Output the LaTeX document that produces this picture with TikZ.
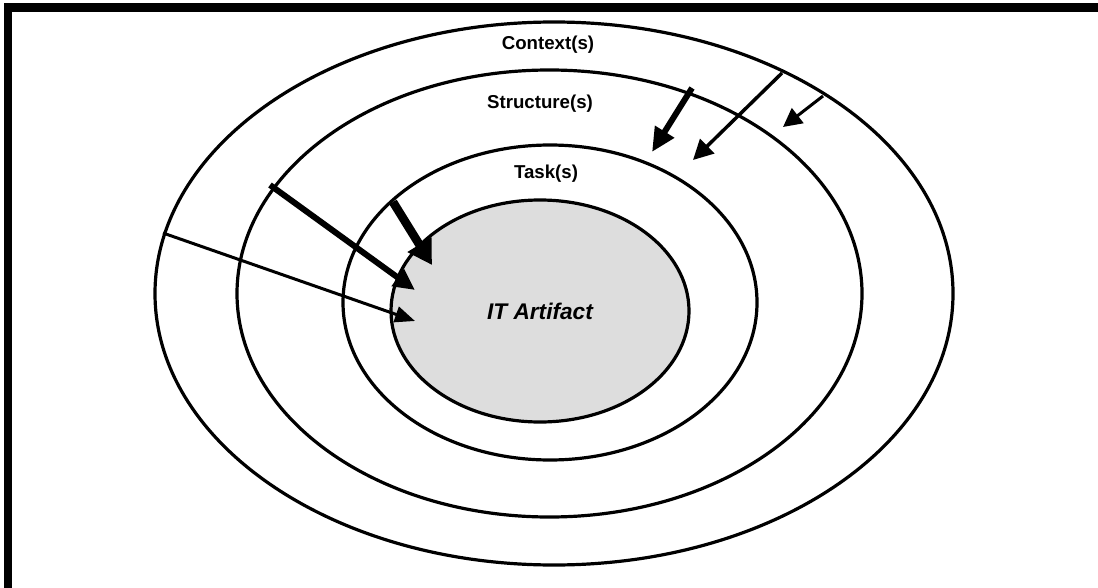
\documentclass[tikz,border=0pt]{standalone}
\usepackage{fontspec}
\setmainfont{Liberation Sans}
\usetikzlibrary{shapes.geometric,arrows.meta}
\definecolor{artgray}{RGB}{221,221,221}
\tikzset{
  ring/.style={ellipse, draw=black, line width=2.4pt, inner sep=0pt, outer sep=0pt},
  lbl/.style={font=\fontsize{14}{16}\selectfont\bfseries, inner sep=0pt},
  arr/.style={draw=black, line cap=butt}
}
\begin{document}
\begin{tikzpicture}[x=0.75pt,y=-0.75pt]
\useasboundingbox (0,0) rectangle (1098,588);
% frame (top and left)
\fill[black] (4,3) rectangle (1098,12);
\fill[black] (4,3) rectangle (12,588);
% rings
\node[ring, minimum width=598.5pt, minimum height=407.25pt] (ctx) at (554,293.5) {};
\node[ring, minimum width=468.75pt, minimum height=335.25pt] (str) at (549.5,293.5) {};
\node[ring, minimum width=310.5pt, minimum height=236.25pt] (tsk) at (550,302.5) {};
\node[ring, fill=artgray, minimum width=223.5pt, minimum height=166.5pt] (art) at (540,311) {};
% labels
\node[lbl] (lctx) at (548,45) {Context(s)};
\node[lbl] (lstr) at (540,104) {Structure(s)};
\node[lbl] (ltsk) at (546,174) {Task(s)};
\node[font=\fontsize{17}{19}\selectfont\bfseries\itshape, inner sep=0pt] (lart) at (540,311) {IT Artifact};
% arrow endpoints
\coordinate (a1s) at (163,233);  \coordinate (a1e) at (415,321);
\coordinate (a2s) at (270,185);  \coordinate (a2e) at (415,290);
\coordinate (a3s) at (393,202);  \coordinate (a3e) at (432,265);
\coordinate (a4s) at (692,88);   \coordinate (a4e) at (652,152);
\coordinate (a5s) at (782,73);   \coordinate (a5e) at (693,160);
\coordinate (a6s) at (823,96);   \coordinate (a6e) at (783,127);
% arrows
\draw[arr, line width=2.25pt, -{Triangle[length=15pt,width=12pt]}] (a1s) -- (a1e);
\draw[arr, line width=4.5pt, -{Triangle[length=16pt,width=15pt]}] (a2s) -- (a2e);
\draw[arr, line width=6.5pt, -{Triangle[length=18pt,width=20pt]}] (a3s) -- (a3e);
\draw[arr, line width=4.5pt, -{Triangle[length=18pt,width=16pt]}] (a4s) -- (a4e);
\draw[arr, line width=2.6pt, -{Triangle[length=15pt,width=15pt]}] (a5s) -- (a5e);
\draw[arr, line width=2.25pt, -{Triangle[length=14pt,width=14pt]}] (a6s) -- (a6e);
\end{tikzpicture}
\end{document}
